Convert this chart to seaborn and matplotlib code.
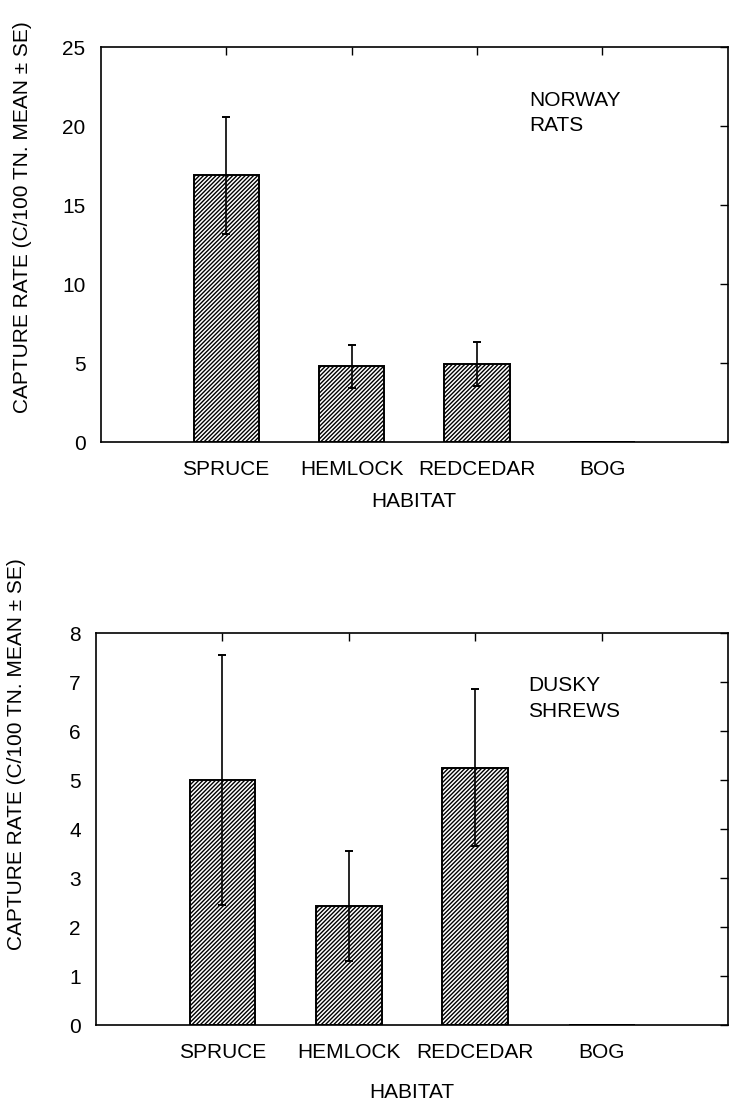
import matplotlib
matplotlib.use("Agg")
import matplotlib.pyplot as plt
import seaborn as sns
import pandas as pd

# Datos
habitats = ['SPRUCE', 'HEMLOCK', 'REDCEDAR', 'BOG']
rats_mean = [16.9, 4.8, 4.95, 0.0]
rats_se = [3.7, 1.35, 1.4, 0.0]
shrews_mean = [5.0, 2.43, 5.25, 0.0]
shrews_se = [2.55, 1.13, 1.6, 0.0]

rats_ticks = [0, 5, 10, 15, 20, 25]
shrews_ticks = [0, 1, 2, 3, 4, 5, 6, 7, 8]

sns.set_style("white")
plt.rcParams['font.family'] = ['Liberation Sans', 'DejaVu Sans']
plt.rcParams['hatch.linewidth'] = 1.0
plt.rcParams['text.color'] = 'black'
plt.rcParams['axes.labelcolor'] = 'black'

fig = plt.figure(figsize=(7.30, 11.08), dpi=100)
ax1 = fig.add_axes([0.138, 0.601, 0.859, 0.3565])
ax2 = fig.add_axes([0.1315, 0.0749, 0.866, 0.3538])

ylabel = 'CAPTURE RATE (C/100 TN. MEAN \u00b1 SE)'
fs = 15


def panel(ax, medias, errores, yticks, texto, lab_y, xpad):
    df = pd.DataFrame({'habitat': habitats, 'rate': medias})
    sns.barplot(data=df, x='habitat', y='rate', order=habitats, ax=ax,
                color='white', edgecolor='black', linewidth=1.4,
                hatch='////////', width=0.52, errorbar=None)
    # barras de error (media +/- SE)
    for p, m, e in zip(ax.patches, medias, errores):
        if e > 0:
            ax.errorbar(p.get_x() + p.get_width() / 2, m, yerr=e,
                        fmt='none', ecolor='black', elinewidth=1.2,
                        capsize=3, capthick=1.4)
    ax.set_xlim(-1, 4)
    ax.set_ylim(yticks[0], yticks[-1])
    ax.set_yticks(yticks)
    ax.set_xticks(range(len(habitats)))
    ax.set_xticklabels(habitats)
    ax.tick_params(axis='both', direction='in', length=6, width=1,
                   labelsize=fs, top=True, right=True, colors='black')
    ax.tick_params(axis='y', pad=11)
    ax.tick_params(axis='x', pad=13)
    for s in ax.spines.values():
        s.set_visible(True)
        s.set_color('black')
        s.set_linewidth(1.2)
    ax.set_xlabel('HABITAT', fontsize=fs, labelpad=xpad)
    ax.set_ylabel(ylabel, fontsize=fs)
    ax.yaxis.set_label_coords(-0.11, lab_y)
    ax.text(0.684, 0.89, texto, transform=ax.transAxes, fontsize=fs,
            va='top', ha='left', linespacing=1.45)


panel(ax1, rats_mean, rats_se, rats_ticks, 'NORWAY\nRATS', 0.57, 9)
panel(ax2, shrews_mean, shrews_se, shrews_ticks, 'DUSKY\nSHREWS', 0.69, 15)

fig.savefig('out.png', dpi=100)
